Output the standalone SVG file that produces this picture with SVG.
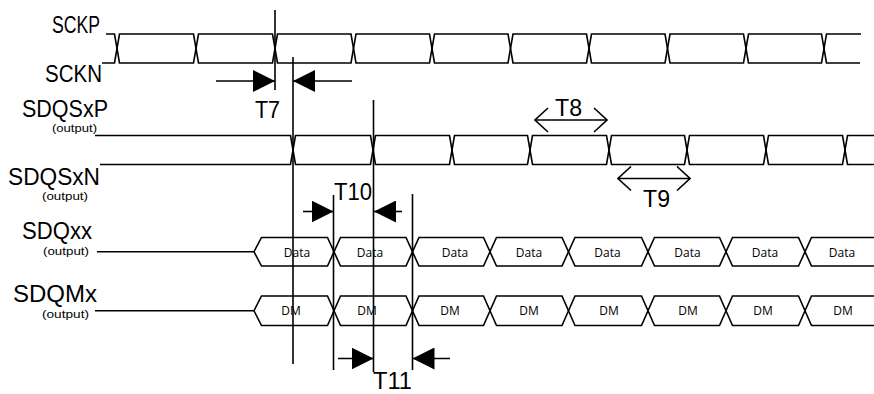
<svg xmlns="http://www.w3.org/2000/svg" width="874" height="394" viewBox="0 0 874 394">
<style>
.w{fill:none;stroke:#000;stroke-width:1.6;stroke-linejoin:miter}
.ln{stroke:#000;stroke-width:1.6;fill:none}
.lbl{font-family:"Liberation Sans","Open Sans",sans-serif;font-size:23px;fill:#000}
.sub{font-family:"Liberation Sans","Open Sans",sans-serif;font-size:11.5px;fill:#000}
.dat{font-family:"Open Sans","Noto Sans",sans-serif;font-size:12px;fill:#000;text-anchor:middle}
</style>
<defs>
<marker id="fa" markerUnits="userSpaceOnUse" markerWidth="22" markerHeight="22" viewBox="0 0 22 22" refX="22" refY="11" orient="auto"><path d="M0,0 L22,11 L0,22 z" fill="#000"/></marker>
<marker id="oa" markerUnits="userSpaceOnUse" markerWidth="16" markerHeight="26" viewBox="-15 -13 16 26" refX="0" refY="0" orient="auto-start-reverse"><path d="M-13,-12 L0,0 L-13,12" fill="none" stroke="#000" stroke-width="1.6"/></marker>
</defs>
<rect width="874" height="394" fill="#fff"/>

<g id="sck">
<text class="lbl" x="52" y="33" textLength="48" lengthAdjust="spacingAndGlyphs">SCKP</text>
<text class="lbl" x="45" y="82" textLength="57" lengthAdjust="spacingAndGlyphs">SCKN</text>
<path class="w" d="M106,34 H114.5 L119.5,63 H193.5 L198.5,34 H272.5 L277.5,63 H351 L356,34 H429.5 L434.5,63 H508 L513,34 H586.5 L591.5,63 H665 L670,34 H743.5 L748.5,63 H821.5 L826.5,34 H861"/>
<path class="w" d="M102,63 H114.5 L119.5,34 H193.5 L198.5,63 H272.5 L277.5,34 H351 L356,63 H429.5 L434.5,34 H508 L513,63 H586.5 L591.5,34 H665 L670,63 H743.5 L748.5,34 H821.5 L826.5,63 H860"/>
</g>

<g id="sdqs">
<text class="lbl" x="22" y="116.5" textLength="86" lengthAdjust="spacingAndGlyphs">SDQSxP</text>
<text class="sub" x="52" y="131.5" textLength="45" lengthAdjust="spacingAndGlyphs">(output)</text>
<text class="lbl" x="8" y="184.5" textLength="92" lengthAdjust="spacingAndGlyphs">SDQSxN</text>
<text class="sub" x="42" y="199.5" textLength="46" lengthAdjust="spacingAndGlyphs">(output)</text>
<path class="w" d="M95,135.5 H290.5 L295.5,164.5 H370.5 L375.5,135.5 H449.5 L454.5,164.5 H527.5 L532.5,135.5 H606.5 L611.5,164.5 H684.5 L689.5,135.5 H763.5 L768.5,164.5 H842.5 L847.5,135.5 H874"/>
<path class="w" d="M100,164.5 H290.5 L295.5,135.5 H370.5 L375.5,164.5 H449.5 L454.5,135.5 H527.5 L532.5,164.5 H606.5 L611.5,135.5 H684.5 L689.5,164.5 H763.5 L768.5,135.5 H842.5 L847.5,164.5 H874"/>
</g>

<g id="sdq">
<text class="lbl" x="22" y="238.5" textLength="70" lengthAdjust="spacingAndGlyphs">SDQxx</text>
<text class="sub" x="43" y="254.5" textLength="46" lengthAdjust="spacingAndGlyphs">(output)</text>
<path class="w" d="M97,251.75 H254"/>
<path class="w" d="M254,251.75 L261.5,237.5 H327.5 L340.5,266 H406 L419,237.5 H483.5 L496.5,266 H562 L575,237.5 H641.5 L654.5,266 H719.5 L732.5,237.5 H798.5 L811.5,266 H874"/>
<path class="w" d="M254,251.75 L261.5,266 H327.5 L340.5,237.5 H406 L419,266 H483.5 L496.5,237.5 H562 L575,266 H641.5 L654.5,237.5 H719.5 L732.5,266 H798.5 L811.5,237.5 H874"/>
<text class="dat" x="297" y="256.5">Data</text>
<text class="dat" x="370" y="256.5">Data</text>
<text class="dat" x="455" y="256.5">Data</text>
<text class="dat" x="529" y="256.5">Data</text>
<text class="dat" x="607.5" y="256.5">Data</text>
<text class="dat" x="687.5" y="256.5">Data</text>
<text class="dat" x="765" y="256.5">Data</text>
<text class="dat" x="842" y="256.5">Data</text>
</g>

<g id="sdqm">
<text class="lbl" x="13" y="302" textLength="84" lengthAdjust="spacingAndGlyphs">SDQMx</text>
<text class="sub" x="42" y="317.5" textLength="47" lengthAdjust="spacingAndGlyphs">(output)</text>
<path class="w" d="M95,310.75 H254"/>
<path class="w" d="M254,310.75 L261.5,296 H327.5 L340.5,325.5 H406 L419,296 H483.5 L496.5,325.5 H562 L575,296 H641.5 L654.5,325.5 H719.5 L732.5,296 H798.5 L811.5,325.5 H874"/>
<path class="w" d="M254,310.75 L261.5,325.5 H327.5 L340.5,296 H406 L419,325.5 H483.5 L496.5,296 H562 L575,325.5 H641.5 L654.5,296 H719.5 L732.5,325.5 H798.5 L811.5,296 H874"/>
<text class="dat" x="291" y="315">DM</text>
<text class="dat" x="367" y="315">DM</text>
<text class="dat" x="450" y="315">DM</text>
<text class="dat" x="529" y="315">DM</text>
<text class="dat" x="609" y="315">DM</text>
<text class="dat" x="688" y="315">DM</text>
<text class="dat" x="763" y="315">DM</text>
<text class="dat" x="843" y="315">DM</text>
</g>

<g id="connectors">
<line class="ln" x1="275" y1="10" x2="275" y2="90"/>
<line class="ln" x1="293" y1="57" x2="293" y2="364"/>
<line class="ln" x1="373.5" y1="100" x2="373.5" y2="372"/>
<line class="ln" x1="333.5" y1="195" x2="333.5" y2="370"/>
<line class="ln" x1="412.5" y1="194" x2="412.5" y2="370"/>
<line class="ln" x1="216" y1="81" x2="275" y2="81" marker-end="url(#fa)"/>
<line class="ln" x1="352" y1="81" x2="293" y2="81" marker-end="url(#fa)"/>
<line class="ln" x1="303" y1="211.5" x2="333.5" y2="211.5" marker-end="url(#fa)"/>
<line class="ln" x1="402" y1="211.5" x2="374" y2="211.5" marker-end="url(#fa)"/>
<line class="ln" x1="338" y1="358.5" x2="373.5" y2="358.5" marker-end="url(#fa)"/>
<line class="ln" x1="450" y1="358.5" x2="412.5" y2="358.5" marker-end="url(#fa)"/>
<line class="ln" x1="535" y1="120" x2="607" y2="120" marker-start="url(#oa)" marker-end="url(#oa)"/>
<line class="ln" x1="618" y1="178.5" x2="690" y2="178.5" marker-start="url(#oa)" marker-end="url(#oa)"/>
</g>

<g id="timings">
<text class="lbl" x="255" y="118" textLength="25" lengthAdjust="spacingAndGlyphs">T7</text>
<text class="lbl" x="555" y="116" textLength="27" lengthAdjust="spacingAndGlyphs">T8</text>
<text class="lbl" x="643" y="207" textLength="27" lengthAdjust="spacingAndGlyphs">T9</text>
<text class="lbl" x="334" y="200" textLength="38" lengthAdjust="spacingAndGlyphs">T10</text>
<text class="lbl" x="373" y="389" textLength="39" lengthAdjust="spacingAndGlyphs">T11</text>
</g>
</svg>
